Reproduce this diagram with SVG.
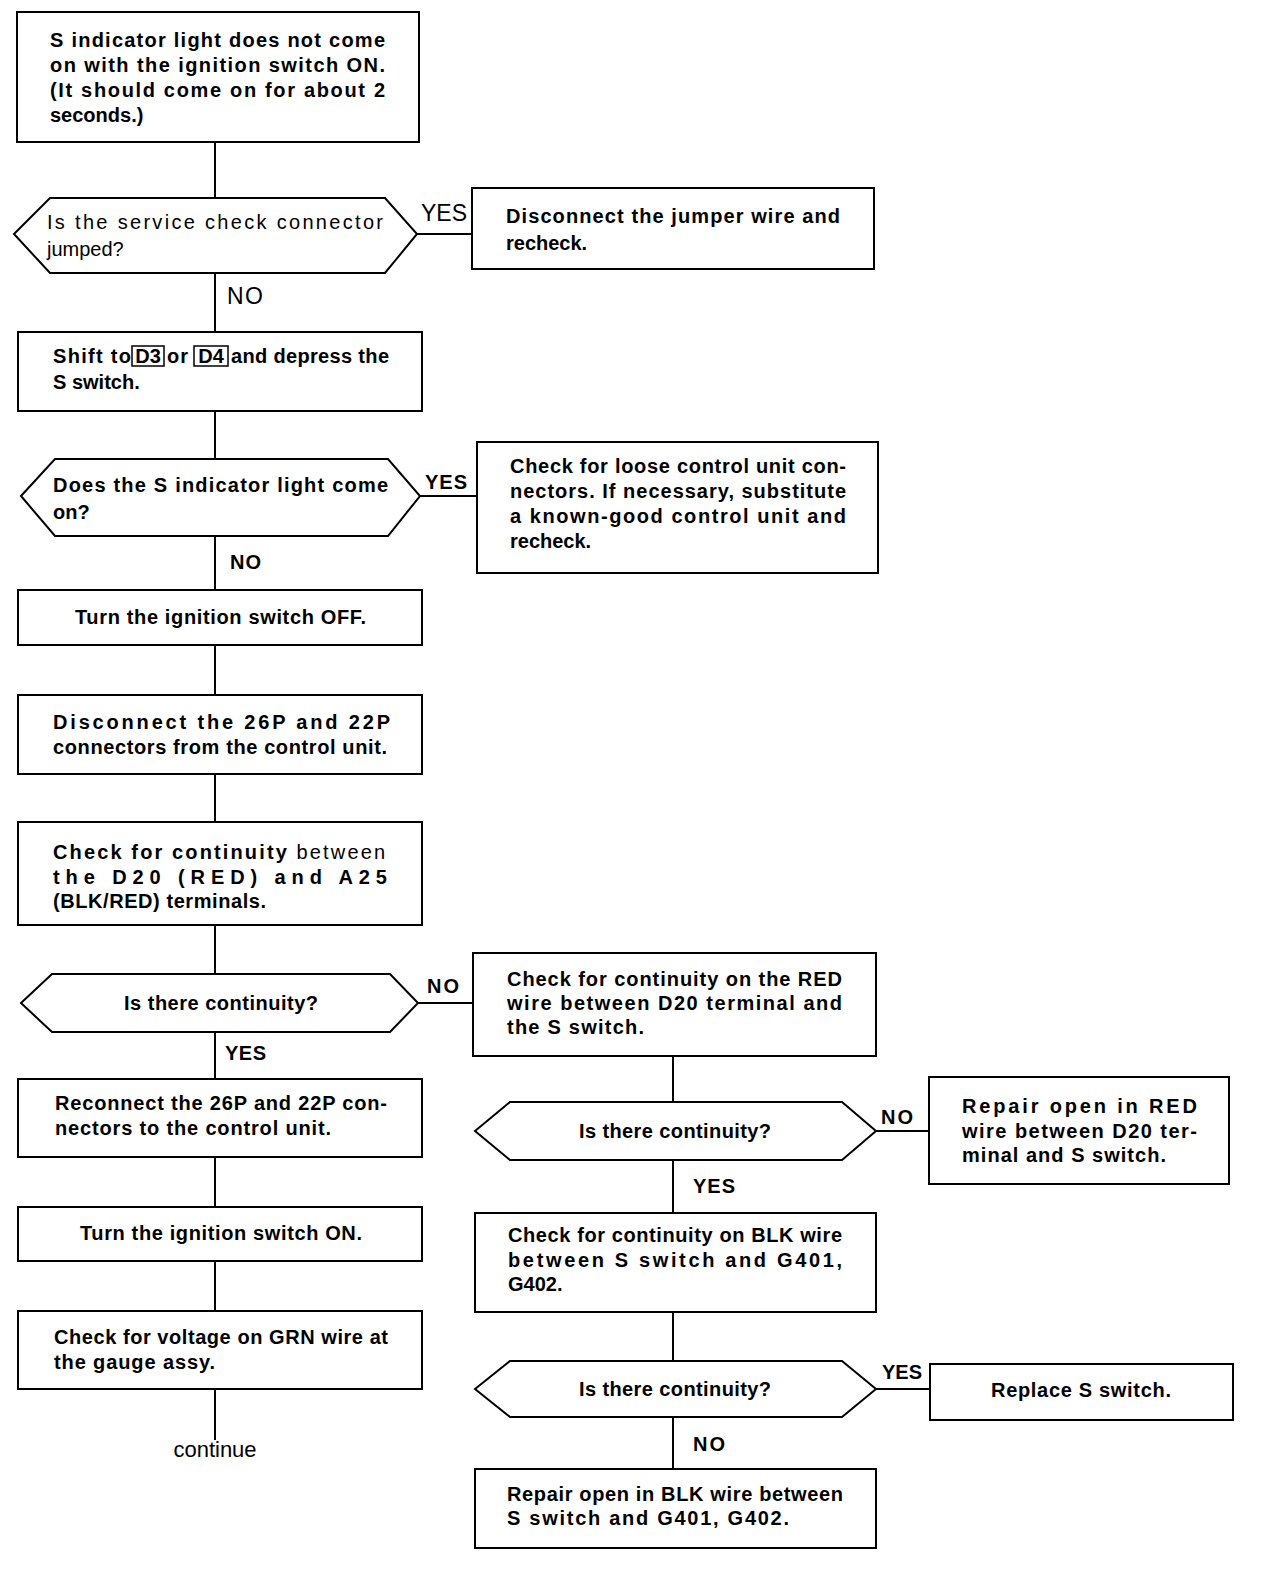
<svg xmlns="http://www.w3.org/2000/svg" width="1264" height="1576" viewBox="0 0 1264 1576">
<style>
.b{fill:#fff;stroke:#000;stroke-width:2}
.c{fill:none;stroke:#000;stroke-width:2}
.t{font-family:"Liberation Sans",Arial,sans-serif;font-size:20px;font-weight:bold;fill:#000}
.n{font-family:"Liberation Sans",Arial,sans-serif;font-size:20px;font-weight:normal;fill:#000}
.L{font-family:"Liberation Sans",Arial,sans-serif;font-size:23px;fill:#000}
.l{font-family:"Liberation Sans",Arial,sans-serif;font-size:20px;font-weight:bold;fill:#000}
.m{text-anchor:middle}
.k{fill:none;stroke:#000;stroke-width:1.5}
</style>
<rect width="1264" height="1576" fill="#fff"/>
<g id="connectors">
<path class="c" d="M215 142V198M215 273V332M215 411V459M215 536V590M215 645V695M215 774V822M215 925V974M215 1032V1079M215 1157V1207M215 1261V1311M215 1389V1440"/>
<path class="c" d="M673 1056V1102M673 1160V1213M673 1312V1361M673 1417V1469"/>
<path class="c" d="M417 234H472M420 496H477M418 1003H473M876 1131H929M876 1389H930"/>
</g>
<g id="labels">
<text class="L" x="421" y="221" textLength="46">YES</text>
<text class="L" x="227" y="304" textLength="36">NO</text>
<text class="l" x="425" y="489" textLength="42">YES</text>
<text class="l" x="230" y="569" textLength="31">NO</text>
<text class="l" x="427" y="993" textLength="32">NO</text>
<text class="l" x="225" y="1060" textLength="41">YES</text>
<text class="l" x="881" y="1124" textLength="32">NO</text>
<text class="l" x="693" y="1193" textLength="42">YES</text>
<text class="l" x="882" y="1379" textLength="40">YES</text>
<text class="l" x="693" y="1451" textLength="32">NO</text>
</g>
<g id="n1">
<rect class="b" x="17" y="12" width="402" height="130"/>
<text class="t" x="50" y="47" textLength="335">S indicator light does not come</text>
<text class="t" x="50" y="72" textLength="335">on with the ignition switch ON.</text>
<text class="t" x="50" y="97" textLength="335">(It should come on for about 2</text>
<text class="t" x="50" y="122">seconds.)</text>
</g>
<g id="d1">
<polygon class="b" points="14,234 50,198 385,198 417,234 385,273 50,273"/>
<text class="n" x="47" y="229" textLength="336">Is the service check connector</text>
<text class="n" x="47" y="256">jumped?</text>
</g>
<g id="n2">
<rect class="b" x="472" y="188" width="402" height="81"/>
<text class="t" x="506" y="223" textLength="334">Disconnect the jumper wire and</text>
<text class="t" x="506" y="250">recheck.</text>
</g>
<g id="n3">
<rect class="b" x="18" y="332" width="404" height="79"/>
<text class="t" x="53" y="363" textLength="78">Shift to</text>
<rect class="k" x="132" y="346" width="32" height="20"/>
<text class="t m" x="148" y="363">D3</text>
<text class="t" x="167" y="363" textLength="21">or</text>
<rect class="k" x="194" y="346" width="34" height="20"/>
<text class="t m" x="211" y="363">D4</text>
<text class="t" x="231" y="363" textLength="158">and depress the</text>
<text class="t" x="53" y="389">S switch.</text>
</g>
<g id="d2">
<polygon class="b" points="21,496 55,459 388,459 420,496 388,536 55,536"/>
<text class="t" x="53" y="492" textLength="335">Does the S indicator light come</text>
<text class="t" x="53" y="519">on?</text>
</g>
<g id="n4">
<rect class="b" x="477" y="442" width="401" height="131"/>
<text class="t" x="510" y="473" textLength="336">Check for loose control unit con-</text>
<text class="t" x="510" y="498" textLength="336">nectors. If necessary, substitute</text>
<text class="t" x="510" y="523" textLength="336">a known-good control unit and</text>
<text class="t" x="510" y="548">recheck.</text>
</g>
<g id="n5">
<rect class="b" x="18" y="590" width="404" height="55"/>
<text class="t" x="75" y="624" textLength="291">Turn the ignition switch OFF.</text>
</g>
<g id="n6">
<rect class="b" x="18" y="695" width="404" height="79"/>
<text class="t" x="53" y="729" textLength="337">Disconnect the 26P and 22P</text>
<text class="t" x="53" y="754" textLength="334">connectors from the control unit.</text>
</g>
<g id="n7">
<rect class="b" x="18" y="822" width="404" height="103"/>
<text class="t" x="53" y="859" textLength="332">Check for continuity <tspan class="n">between</tspan></text>
<text class="t" x="53" y="884" textLength="334">the D20 (RED) and A25</text>
<text class="t" x="53" y="908" textLength="213">(BLK/RED) terminals.</text>
</g>
<g id="d3">
<polygon class="b" points="21,1003 52,974 390,974 418,1003 390,1032 52,1032"/>
<text class="t" x="124" y="1010" textLength="194">Is there continuity?</text>
</g>
<g id="n8">
<rect class="b" x="473" y="953" width="403" height="103"/>
<text class="t" x="507" y="986" textLength="335">Check for continuity on the RED</text>
<text class="t" x="507" y="1010" textLength="335">wire between D20 terminal and</text>
<text class="t" x="507" y="1034" textLength="137">the S switch.</text>
</g>
<g id="n9">
<rect class="b" x="18" y="1079" width="404" height="78"/>
<text class="t" x="55" y="1110" textLength="332">Reconnect the 26P and 22P con-</text>
<text class="t" x="55" y="1135" textLength="276">nectors to the control unit.</text>
</g>
<g id="d4">
<polygon class="b" points="475,1131 510,1102 842,1102 876,1131 842,1160 510,1160"/>
<text class="t" x="579" y="1138" textLength="192">Is there continuity?</text>
</g>
<g id="n10">
<rect class="b" x="929" y="1077" width="300" height="107"/>
<text class="t" x="962" y="1113" textLength="235">Repair open in RED</text>
<text class="t" x="962" y="1138" textLength="235">wire between D20 ter-</text>
<text class="t" x="962" y="1162" textLength="204">minal and S switch.</text>
</g>
<g id="n11">
<rect class="b" x="18" y="1207" width="404" height="54"/>
<text class="t" x="80" y="1240" textLength="282">Turn the ignition switch ON.</text>
</g>
<g id="n12">
<rect class="b" x="475" y="1213" width="401" height="99"/>
<text class="t" x="508" y="1242" textLength="334">Check for continuity on BLK wire</text>
<text class="t" x="508" y="1267" textLength="334">between S switch and G401,</text>
<text class="t" x="508" y="1291">G402.</text>
</g>
<g id="n13">
<rect class="b" x="18" y="1311" width="404" height="78"/>
<text class="t" x="54" y="1344" textLength="334">Check for voltage on GRN wire at</text>
<text class="t" x="54" y="1369" textLength="161">the gauge assy.</text>
</g>
<text class="n m" x="215" y="1457" style="font-size:22px">continue</text>
<g id="d5">
<polygon class="b" points="475,1389 510,1361 842,1361 876,1389 842,1417 510,1417"/>
<text class="t" x="579" y="1396" textLength="192">Is there continuity?</text>
</g>
<g id="n14">
<rect class="b" x="930" y="1364" width="303" height="56"/>
<text class="t" x="991" y="1397" textLength="180">Replace S switch.</text>
</g>
<g id="n15">
<rect class="b" x="475" y="1469" width="401" height="79"/>
<text class="t" x="507" y="1501" textLength="336">Repair open in BLK wire between</text>
<text class="t" x="507" y="1525" textLength="282">S switch and G401, G402.</text>
</g>
</svg>
